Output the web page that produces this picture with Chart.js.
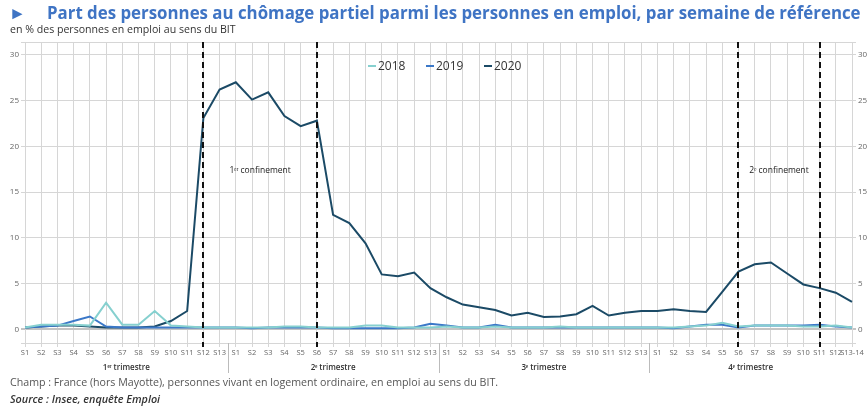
<!DOCTYPE html>
<html>
<head>
<meta charset="utf-8">
<script src="https://cdn.jsdelivr.net/npm/chart.js@4"></script>
<style>
  body{margin:0;width:868px;height:407px;overflow:hidden;background:#fff;font-family:"Open Sans",sans-serif;position:relative}
  #wrap{position:absolute;left:0;top:0;width:868px;height:407px}
  .t{position:absolute;white-space:nowrap}
  #title{left:9px;top:1px;font-size:16.85px;font-weight:700;color:#3f74c4}
  #title span{display:inline-block;width:38px;font-size:17px}
  #sub{left:10px;top:22px;font-size:10.6px;color:#333}
  #champ{left:10px;top:375px;font-size:10.65px;color:#555}
  #src{left:10px;top:391px;font-size:10.8px;font-weight:600;color:#333;font-style:italic}
</style>
</head>
<body>
<div id="wrap"><canvas id="chart"></canvas></div>
<div class="t" id="title"><span>►</span>Part des personnes au chômage partiel parmi les personnes en emploi, par semaine de référence</div>
<div class="t" id="sub">en % des personnes en emploi au sens du BIT</div>
<div class="t" id="champ">Champ : France (hors Mayotte), personnes vivant en logement ordinaire, en emploi au sens du BIT.</div>
<div class="t" id="src">Source : Insee, enquête Emploi</div>
<script>
// semaines de référence, par trimestre
const weeks = ['S1','S2','S3','S4','S5','S6','S7','S8','S9','S10','S11','S12','S13'];
const weeksQ4 = ['S1','S2','S3','S4','S5','S6','S7','S8','S9','S10','S11','S12','S13-14'];
const quarters = ['1ᵉʳ trimestre','2ᵉ trimestre','3ᵉ trimestre','4ᵉ trimestre'];
const labels = [...weeks, ...weeks, ...weeks, ...weeksQ4];

const years = ['2018','2019','2020'];
const v2018 = [0.2,0.5,0.5,0.5,0.4,2.9,0.5,0.5,2.0,0.4,0.3,0.2,0.2,
               0.2,0.2,0.2,0.3,0.3,0.2,0.2,0.2,0.4,0.4,0.2,0.2,0.2,
               0.3,0.2,0.2,0.3,0.2,0.2,0.2,0.3,0.2,0.2,0.2,0.2,0.2,
               0.2,0.2,0.3,0.4,0.7,0.3,0.4,0.4,0.4,0.3,0.3,0.4,0.2];
const v2019 = [0.2,0.3,0.4,0.9,1.4,0.3,0.2,0.2,0.2,0.2,0.2,0.2,0.2,
               0.2,0.1,0.2,0.2,0.2,0.2,0.1,0.1,0.1,0.1,0.1,0.2,0.6,
               0.4,0.2,0.2,0.5,0.2,0.2,0.2,0.2,0.2,0.2,0.2,0.2,0.2,
               0.2,0.1,0.3,0.5,0.5,0.2,0.4,0.4,0.4,0.4,0.5,0.3,0.2];
const v2020 = [0.2,0.3,0.4,0.4,0.3,0.2,0.2,0.2,0.3,0.9,2.0,23.1,26.2,
               27.0,25.1,25.9,23.3,22.2,22.8,12.5,11.6,9.4,6.0,5.8,6.2,4.5,
               3.5,2.7,2.4,2.1,1.5,1.8,1.35,1.4,1.65,2.55,1.5,1.8,2.0,
               2.0,2.2,2.0,1.9,4.1,6.3,7.1,7.3,6.1,4.9,4.5,4.0,3.0];
const colors = ['#86d0cf','#3b78c8','#1b4a66'];

const yTicks = [0,5,10,15,20,25,30];
const yMin = -1.5, yMax = 31.4;

// confinements : [index début, index fin, libellé]
const lockdowns = [[11,18,'1ᵉʳ confinement'],[44,49,'2ᵉ confinement']];

const grid = '#d6d6d6';
const tickFont = {family:'Open Sans', size:7.5};

const extras = {
  id:'extras',
  afterDatasetsDraw(chart){
    const {ctx, chartArea:a, scales:{x,y}} = chart;
    ctx.save();
    // pointillés des confinements
    ctx.strokeStyle = '#111'; ctx.lineWidth = 2; ctx.setLineDash([6,4]);
    lockdowns.forEach(l=>{
      [l[0],l[1]].forEach(i=>{
        const px = Math.round(x.getPixelForValue(i));
        ctx.beginPath(); ctx.moveTo(px,a.top); ctx.lineTo(px,a.bottom+4); ctx.stroke();
      });
    });
    ctx.setLineDash([]);
    ctx.fillStyle = '#222'; ctx.font = '8.5px "Open Sans"';
    ctx.textAlign = 'center'; ctx.textBaseline = 'middle';
    lockdowns.forEach(l=>{
      const cx = (x.getPixelForValue(l[0]) + x.getPixelForValue(l[1]))/2;
      ctx.fillText(l[2], cx, y.getPixelForValue(17.4));
    });
    // trimestres
    const seps = [12.5,25.5,38.5].map(v=>x.getPixelForValue(v));
    ctx.strokeStyle = '#bbb'; ctx.lineWidth = 1;
    seps.forEach(px=>{ ctx.beginPath(); ctx.moveTo(Math.round(px)+0.5,a.bottom); ctx.lineTo(Math.round(px)+0.5,a.bottom+30); ctx.stroke(); });
    const bounds = [a.left, ...seps, a.right];
    ctx.fillStyle = '#333'; ctx.font = '600 8px "Open Sans"';
    quarters.forEach((q,i)=> ctx.fillText(q, (bounds[i]+bounds[i+1])/2, a.bottom+25));
    // légende
    ctx.font = '12px "Open Sans"'; ctx.textAlign = 'left';
    let lx = 368; const ly = 66;
    chart.data.datasets.forEach(ds=>{
      ctx.fillStyle = ds.borderColor; ctx.fillRect(lx, ly-1, 8, 2);
      ctx.fillStyle = '#333'; ctx.fillText(ds.label, lx+10, ly+1);
      lx += 58;
    });
    ctx.restore();
  }
};

const yAxis = (pos, w) => ({
  position: pos, min: yMin, max: yMax,
  afterBuildTicks: s => { s.ticks = [yMin, ...yTicks, yMax].map(v=>({value:v})); },
  afterFit: s => { s.width = w; },
  ticks: { color:'#666', font:{family:'Open Sans', size:8}, padding:2,
           callback: v => yTicks.includes(v) ? v : '' },
  grid: { color: c => c.tick && c.tick.value === 0 ? '#c4c4c4' : grid,
          lineWidth: c => c.tick && c.tick.value === 0 ? 2 : 1,
          tickLength: 4, drawOnChartArea: pos === 'left' },
  border: { color: grid }
});

new Chart(document.getElementById('chart'), {
  type: 'line',
  data: {
    labels,
    datasets: [
      { label: years[0], data: v2018, borderColor: colors[0], backgroundColor: colors[0], borderWidth: 2, pointRadius: 0, tension: 0, order: 1 },
      { label: years[1], data: v2019, borderColor: colors[1], backgroundColor: colors[1], borderWidth: 2, pointRadius: 0, tension: 0, order: 2 },
      { label: years[2], data: v2020, borderColor: colors[2], backgroundColor: colors[2], borderWidth: 2, pointRadius: 0, tension: 0, order: 3 }
    ]
  },
  options: {
    responsive: true, maintainAspectRatio: false, animation: false,
    layout: { padding: { top: 42, bottom: 40, left: 0, right: 0 } },
    plugins: { legend: { display: false }, tooltip: { enabled: false } },
    scales: {
      x: {
        offset: false,
        afterFit: s => { s.height = 24; },
        ticks: { color:'#666', font: tickFont, maxRotation: 0, autoSkip: false, padding: 1 },
        grid: { color: grid, tickLength: 4 },
        border: { color: grid }
      },
      y: yAxis('left', 25),
      y2: yAxis('right', 16)
    }
  },
  plugins: [extras]
});
</script>
</body>
</html>
